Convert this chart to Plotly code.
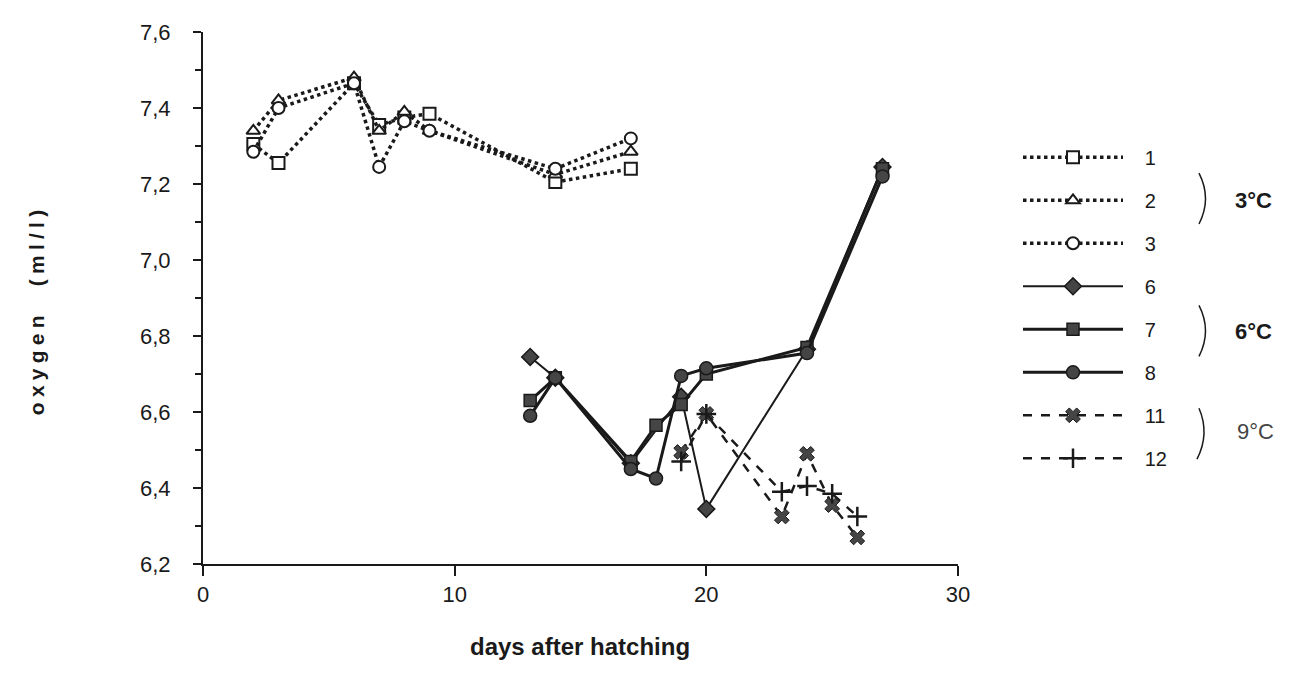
import plotly.graph_objects as go

# ---------------- data ----------------
days_3c = [2, 3, 6, 7, 8, 9, 14, 17]
oxy_1 = [7.305, 7.255, 7.465, 7.355, 7.375, 7.385, 7.205, 7.24]
oxy_2 = [7.34, 7.42, 7.48, 7.34, 7.39, 7.34, 7.225, 7.285]
oxy_3 = [7.285, 7.40, 7.465, 7.245, 7.365, 7.34, 7.24, 7.32]

days_6 = [13, 14, 17, 19, 20, 24, 27]
oxy_6 = [6.745, 6.69, 6.465, 6.64, 6.345, 6.765, 7.245]
days_78 = [13, 14, 17, 18, 19, 20, 24, 27]
oxy_7 = [6.63, 6.69, 6.47, 6.565, 6.62, 6.70, 6.77, 7.24]
oxy_8 = [6.59, 6.69, 6.45, 6.425, 6.695, 6.715, 6.755, 7.22]

days_9c = [19, 20, 23, 24, 25, 26]
oxy_11 = [6.495, 6.595, 6.325, 6.49, 6.355, 6.27]
oxy_12 = [6.47, 6.595, 6.39, 6.405, 6.385, 6.325]

y_tickvals = [6.2, 6.4, 6.6, 6.8, 7.0, 7.2, 7.4, 7.6]
y_ticktext = ["6,2", "6,4", "6,6", "6,8", "7,0", "7,2", "7,4", "7,6"]
x_tickvals = [0, 10, 20, 30]
x_ticktext = ["0", "10", "20", "30"]

group_labels = ["3°C", "6°C", "9°C"]

# ---------------- layout geometry ----------------
OFF = 8                      # page body margin of the html page
W, H = 1299 - OFF, 687 - OFF
L, R, T, B = 203, 958, 21, 564   # plot area in screenshot px


def px(xp):
    return (xp - L) / (R - L)


def py(yp):
    return (B - yp) / (B - T)


FONT = "Liberation Sans, Arial, sans-serif"
INK = "#1a1a1a"
FILL = "#454545"
SP = "\u2005"

fig = go.Figure()


def add(x, y, name, dash, width, symbol, color, size, lw, lc=INK):
    fig.add_trace(go.Scatter(
        x=x, y=y, name="\u00a0\u00a0\u00a0" + name, legendgroup=name,
        mode="lines+markers",
        line=dict(color=INK, width=width, dash=dash),
        marker=dict(symbol=symbol, size=size, color=color,
                    line=dict(color=lc, width=lw)),
        cliponaxis=False,
    ))


add(days_3c, oxy_1, "1", "dot", 3.5, "square", "white", 12, 2)
add(days_3c, oxy_2, "2", "dot", 3.5, "triangle-up", "white", 12, 2)
add(days_3c, oxy_3, "3", "dot", 3.5, "circle", "white", 12, 2)
add(days_6, oxy_6, "6", "solid", 2, "diamond", FILL, 13, 1.5)
add(days_78, oxy_7, "7", "solid", 3, "square", FILL, 12, 1.5)
add(days_78, oxy_8, "8", "solid", 3, "circle", FILL, 13, 1.5)
add(days_9c, oxy_11, "11", "dash", 2.5, "x", FILL, 13, 1)
add(days_9c, oxy_12, "12", "dash", 2.5, "cross-thin", INK, 14, 2.5)

shapes = []
brackets = [(165, 217, 1199, 1199, 1212), (300, 352, 1199, 1199, 1212),
            (405, 457, 1199, 1197, 1210)]
for y0, y1, x0, x1, xc in brackets:
    ym = (y0 + y1) / 2
    shapes.append(dict(
        type="path", xref="paper", yref="paper",
        path=f"M {px(x0)},{py(y0)} Q {px(xc)},{py(ym)} {px(x1)},{py(y1)}",
        line=dict(color=INK, width=1.5),
    ))

ytitle = SP.join("oxygen") + "\u00a0" * 5 + SP.join("(ml/l)")
annotations = [
    dict(text="<b>days after hatching</b>", xref="paper", yref="paper",
         x=px(580), y=py(648), showarrow=False,
         font=dict(family=FONT, size=24, color=INK), xanchor="center", yanchor="middle"),
    dict(text=f"<b>{ytitle}</b>", xref="paper", yref="paper",
         x=px(36), y=py(308), showarrow=False, textangle=-90,
         font=dict(family=FONT, size=21, color=INK), xanchor="center", yanchor="middle"),
]
for lab, (xg, yg, bold) in zip(group_labels, [(1253, 193, True), (1253, 327, True), (1255, 429, False)]):
    annotations.append(dict(
        text=f"<b>{lab}</b>" if bold else lab, xref="paper", yref="paper",
        x=px(xg), y=py(yg), showarrow=False,
        font=dict(family=FONT, size=22, color=INK if bold else "#444"),
        xanchor="center", yanchor="middle"))

fig.update_layout(
    width=W, height=H,
    margin=dict(l=L - OFF, r=W - (R - OFF), t=T - OFF, b=H - (B - OFF), pad=0),
    paper_bgcolor="white", plot_bgcolor="white",
    font=dict(family=FONT, size=20, color=INK),
    showlegend=True,
    legend=dict(x=px(1018), y=py(129), xanchor="left", yanchor="top",
                bgcolor="rgba(0,0,0,0)", borderwidth=0,
                font=dict(family=FONT, size=20, color=INK),
                itemwidth=100, tracegroupgap=14,
                itemclick=False, itemdoubleclick=False),
    xaxis=dict(range=[0, 30], tickvals=x_tickvals, ticktext=x_ticktext,
               showgrid=False, zeroline=False, showline=True, linecolor=INK,
               linewidth=2, ticks="outside", ticklen=10, tickwidth=2,
               tickcolor=INK, tickfont=dict(family=FONT, size=22, color=INK)),
    yaxis=dict(range=[6.2, 7.6], tickvals=y_tickvals, ticktext=y_ticktext,
               showgrid=False, zeroline=False, showline=True, linecolor=INK,
               linewidth=2, ticks="outside", ticklen=8, tickwidth=1.5,
               tickcolor=INK, ticklabelstandoff=18,
               tickfont=dict(family=FONT, size=22, color=INK),
               minor=dict(tickvals=[6.3, 6.5, 6.7, 6.9, 7.1, 7.3, 7.5],
                          ticks="outside", ticklen=6, tickwidth=1.5,
                          tickcolor=INK, showgrid=False)),
    shapes=shapes, annotations=annotations,
)

fig.write_html("out.html")
